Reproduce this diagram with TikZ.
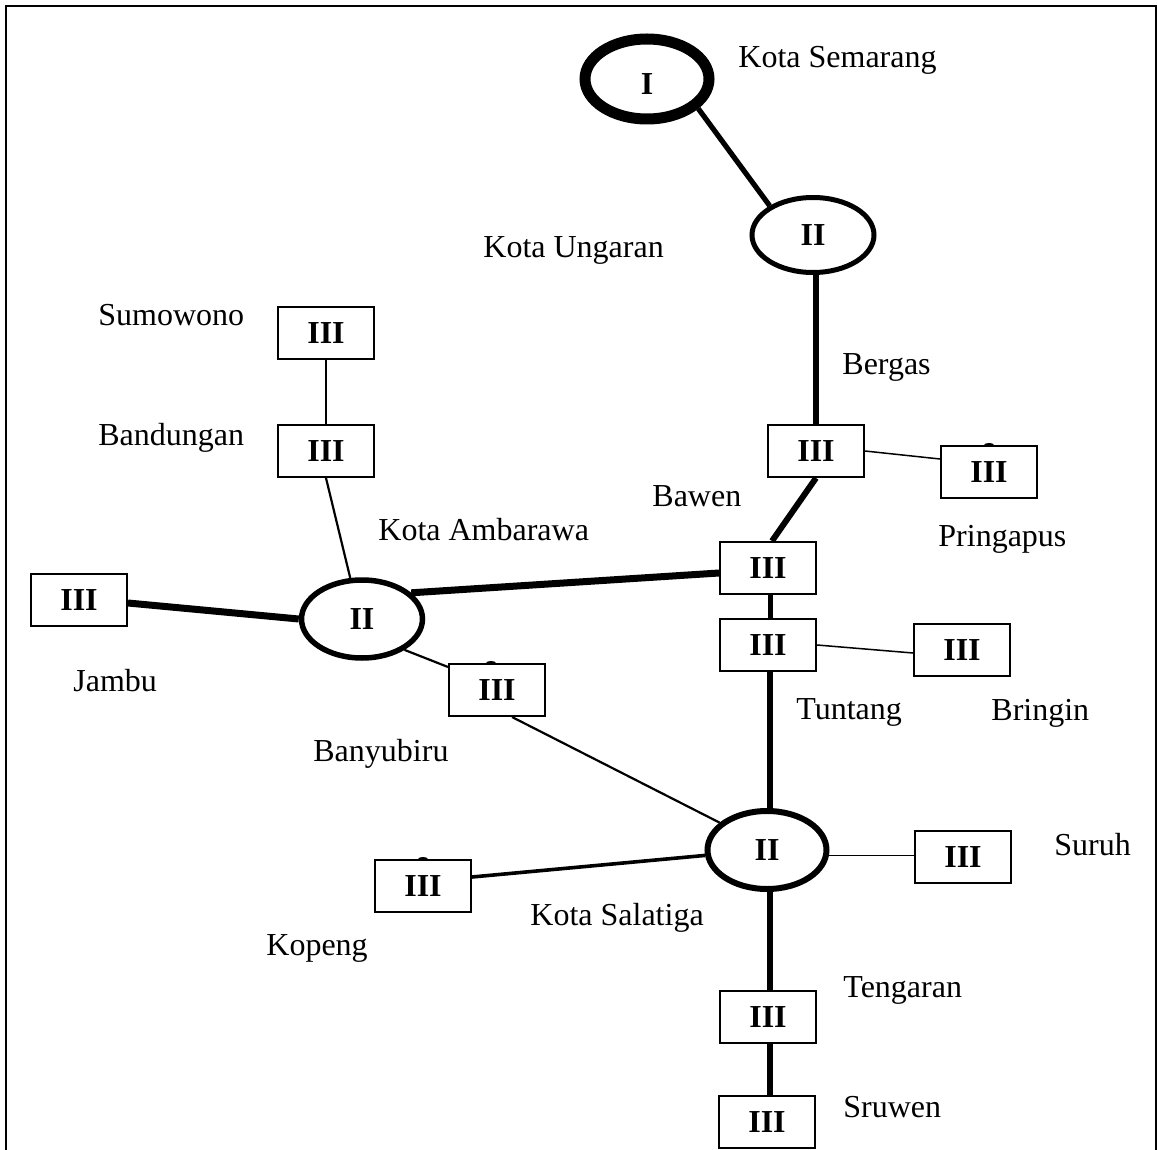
\documentclass[tikz,border=0pt]{standalone}
\usepackage{fontspec}
\setmainfont{Liberation Serif}
\usetikzlibrary{shapes.geometric}
\begin{document}
\begin{tikzpicture}[x=0.5pt,y=-0.5pt,
  txt/.style={font=\fontsize{16pt}{19pt}\selectfont},
  place/.style={txt, anchor=base west, inner sep=0pt},
  tier3/.style={draw, line width=1pt, minimum width=48pt, minimum height=26pt,
    inner sep=0pt, txt, font=\fontsize{16pt}{19pt}\selectfont\bfseries},
  tier2/.style={ellipse, draw, line width=2.75pt, minimum width=60.5pt,
    minimum height=39pt, inner sep=0pt, font=\fontsize{16pt}{19pt}\selectfont\bfseries},
  tier1/.style={ellipse, draw, line width=5.5pt, minimum width=62pt,
    minimum height=40pt, inner sep=0pt, font=\fontsize{16pt}{19pt}\selectfont\bfseries},
  thin/.style={line width=0.75pt},
  light/.style={line width=1.1pt},
  medium/.style={line width=1.8pt},
  heavy/.style={line width=3pt},
  heaviest/.style={line width=3.5pt},
  bump/.style={fill=black}
]
\useasboundingbox (0,0) rectangle (1157,1150);

% frame
\draw[line width=1pt] (6,1150) -- (6,6) -- (1156,6) -- (1156,1150);

% centres
\node[tier1, text height=16pt, text depth=0pt] (sem) at (647,79) {I};
\node[tier2, minimum width=61pt, minimum height=37.5pt, line width=2.5pt] (ung) at (813,235) {II};
\node[tier2] (amb) at (362,619) {II};
\node[tier2, minimum width=59.5pt, line width=3pt] (sal) at (767,850) {II};

% local places
\node[tier3] (sumo) at (326,333) {III};
\node[tier3] (band) at (326,451) {III};
\node[tier3] (jamb) at (79,600) {III};
\node[tier3] (bany) at (497,690) {III};
\node[tier3] (berg) at (816,451) {III};
\node[tier3] (prin) at (989,472) {III};
\node[tier3] (bawe) at (768,568) {III};
\node[tier3] (tunt) at (768,645) {III};
\node[tier3] (brin) at (962,650) {III};
\node[tier3] (suru) at (963,857) {III};
\node[tier3] (kope) at (423,886) {III};
\node[tier3] (teng) at (768,1017) {III};
\node[tier3] (sruw) at (767,1122) {III};

% place names
\node[place] (lsem) at (738,68) {Kota Semarang};
\node[place] (lung) at (483,258) {Kota Ungaran};
\node[place] (lber) at (842,374) {Bergas};
\node[place] (lsum) at (98,326) {Sumowono};
\node[place] (lban) at (98,445) {Bandungan};
\node[place] (lbaw) at (652,506) {Bawen};
\node[place] (lamb) at (378,540) {Kota Ambarawa};
\node[place] (lpri) at (938,546) {Pringapus};
\node[place] (ljam) at (73,691) {Jambu};
\node[place] (ltun) at (796,719) {Tuntang};
\node[place] (lbri) at (991,720) {Bringin};
\node[place] (lbny) at (313,761) {Banyubiru};
\node[place] (lsur) at (1054,855) {Suruh};
\node[place] (lsal) at (530,925) {Kota Salatiga};
\node[place] (lkop) at (266,955) {Kopeng};
\node[place] (lten) at (843,997) {Tengaran};
\node[place] (lsru) at (843,1117) {Sruwen};

% links
\draw[line width=2.6pt] (sem.-30) -- (ung.146);
\draw[heavy] (berg.north) -- (berg.north |- ung.south);
\draw[heavy] (berg.south) -- ([xshift=2pt]bawe.north);
\draw[thin] (berg.east) -- ([yshift=6.5pt]prin.west);
\draw[line width=2.5pt] ([xshift=1pt]bawe.south) -- ([xshift=1pt]tunt.north);
\draw[thin] (tunt.east) -- ([yshift=-1.5pt]brin.west);
\draw[heavy] ([xshift=1pt]tunt.south) -- ([xshift=1pt]tunt.south |- sal.north);
\draw[heavy] ([xshift=1pt]teng.north) -- ([xshift=1pt]teng.north |- sal.south);
\draw[heavy] ([xshift=1pt]teng.south) -- ([xshift=1pt]teng.south |- sruw.north);
\draw[thin] (sal.-5) -- (sal.-5 -| suru.west);
\draw[medium] ([yshift=4.5pt]kope.east) -- (sal.185);
\draw[light] ([xshift=7.5pt]bany.south) -- (sal.150);
\draw[light] (amb.-36) -- ([yshift=-2pt]bany.north west);
\draw[heaviest] ([yshift=-1.5pt]jamb.east) -- (amb.west);
\draw[heaviest] (amb.28) -- ([yshift=-2.5pt]bawe.west);
\draw[light] (band.south) -- (amb.106);
\draw[light] (sumo.south) -- (band.north);

% small humps on box tops
\fill[bump] ([xshift=-2.5pt]prin.north) arc[start angle=180, end angle=0, x radius=2.5pt, y radius=1pt];
\fill[bump] ([xshift=-2.5pt]bany.north) ++(-6,0) arc[start angle=180, end angle=0, x radius=2.5pt, y radius=1pt];
\fill[bump] ([xshift=-2.5pt]kope.north) arc[start angle=180, end angle=0, x radius=2.5pt, y radius=1pt];
\end{tikzpicture}
\end{document}
